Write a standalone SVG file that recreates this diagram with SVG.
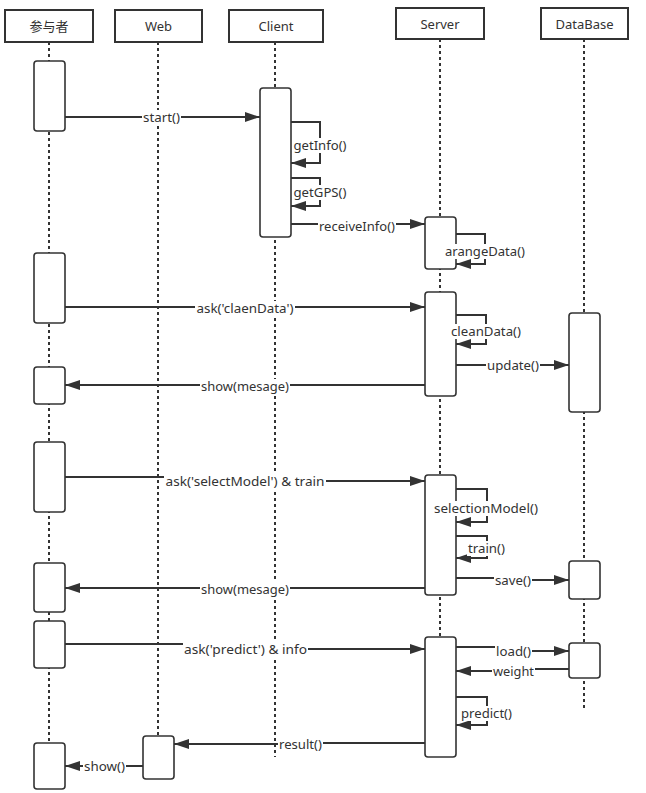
<svg xmlns="http://www.w3.org/2000/svg" width="646" height="793" viewBox="0 0 646 793">
<style>
.hdr{fill:#fff;stroke:#333;stroke-width:2}
.ht{font-family:"Noto Sans","Noto Sans CJK SC",sans-serif;font-size:13px;fill:#333;text-anchor:middle}
.life{stroke:#333;stroke-width:2;stroke-dasharray:3 3;fill:none}
.act{fill:#fff;stroke:#333;stroke-width:1.6}
.msg{fill:none;stroke:#333;stroke-width:2;marker-end:url(#ah)}
.lb{fill:#fff}
.lt{font-family:"Noto Sans","Noto Sans CJK SC",sans-serif;font-size:13px;fill:#333;text-anchor:middle}
</style>
<defs>
<marker id="ah" viewBox="0 0 15 10" refX="15" refY="5" markerWidth="15" markerHeight="10" markerUnits="userSpaceOnUse" orient="auto"><path d="M0,0 L15,5 L0,10 z" fill="#333"/></marker>
</defs>
<rect width="646" height="793" fill="#fff"/>
<g id="lifelines">
<line class="life" x1="49" y1="42" x2="49" y2="789"/>
<line class="life" x1="158" y1="42" x2="158" y2="736"/>
<line class="life" x1="275" y1="42" x2="275" y2="757"/>
<line class="life" x1="440" y1="39" x2="440" y2="759"/>
<line class="life" x1="584" y1="39" x2="584" y2="710"/>
</g>
<g id="actor">
<rect class="hdr" x="5" y="10" width="88" height="32"/>
<text class="ht" x="49" y="31">参与者</text>
<rect class="act" x="34" y="61" width="31" height="70" rx="3"/>
<rect class="act" x="34" y="253" width="31" height="70" rx="3"/>
<rect class="act" x="34" y="367" width="31" height="37" rx="3"/>
<rect class="act" x="34" y="442" width="31" height="70" rx="3"/>
<rect class="act" x="34" y="563" width="31" height="49" rx="3"/>
<rect class="act" x="34" y="621" width="31" height="47" rx="3"/>
<rect class="act" x="34" y="743" width="31" height="46" rx="3"/>
</g>
<g id="web">
<rect class="hdr" x="115" y="10" width="87" height="32"/>
<text class="ht" x="158.5" y="31">Web</text>
<rect class="act" x="143" y="736" width="31" height="43" rx="3"/>
</g>
<g id="client">
<rect class="hdr" x="229" y="10" width="94" height="32"/>
<text class="ht" x="276" y="31">Client</text>
<rect class="act" x="260" y="88" width="31" height="149" rx="3"/>
</g>
<g id="server">
<rect class="hdr" x="396" y="8" width="88" height="31"/>
<text class="ht" x="440" y="28.5">Server</text>
<rect class="act" x="425" y="217" width="31" height="52" rx="3"/>
<rect class="act" x="425" y="292" width="31" height="104" rx="3"/>
<rect class="act" x="425" y="475" width="31" height="120" rx="3"/>
<rect class="act" x="425" y="637" width="31" height="120" rx="3"/>
</g>
<g id="database">
<rect class="hdr" x="541" y="8" width="87" height="31"/>
<text class="ht" x="584.5" y="28.5">DataBase</text>
<rect class="act" x="569" y="313" width="31" height="99" rx="3"/>
<rect class="act" x="569" y="561" width="31" height="38" rx="3"/>
<rect class="act" x="569" y="643" width="31" height="35" rx="3"/>
</g>
<g id="connectors">
<path class="msg" d="M65,117 H260"/>
<path class="msg" d="M291,122 H320 V163 H291"/>
<path class="msg" d="M291,178 H320 V206 H291"/>
<path class="msg" d="M291,224 H425"/>
<path class="msg" d="M456,234 H485 V264 H456"/>
<path class="msg" d="M65,307 H425"/>
<path class="msg" d="M456,315 H486 V344 H456"/>
<path class="msg" d="M456,365 H569"/>
<path class="msg" d="M425,385 H65"/>
<path class="msg" d="M65,477 H245 V481 H425"/>
<path class="msg" d="M456,489 H487 V522 H456"/>
<path class="msg" d="M456,536 H487 V558 H456"/>
<path class="msg" d="M456,578 H513 V580 H569"/>
<path class="msg" d="M425,588 H65"/>
<path class="msg" d="M65,644 H245 V649 H425"/>
<path class="msg" d="M456,647 H513 V651 H569"/>
<path class="msg" d="M569,669 H513 V671 H456"/>
<path class="msg" d="M456,697 H487 V725 H456"/>
<path class="msg" d="M425,743 H300 V744 H174"/>
<path class="msg" d="M143,766 H65"/>
</g>
<g id="labels">
<rect class="lb" x="142" y="110" width="39" height="15"/><text class="lt" x="161.5" y="122" textLength="37" lengthAdjust="spacingAndGlyphs">start()</text>
<rect class="lb" x="292" y="138" width="56" height="15"/><text class="lt" x="320" y="150" textLength="53" lengthAdjust="spacingAndGlyphs">getInfo()</text>
<rect class="lb" x="292" y="185" width="56" height="15"/><text class="lt" x="320" y="197" textLength="53" lengthAdjust="spacingAndGlyphs">getGPS()</text>
<rect class="lb" x="318" y="219" width="78" height="15"/><text class="lt" x="357" y="231" textLength="76" lengthAdjust="spacingAndGlyphs">receiveInfo()</text>
<rect class="lb" x="444" y="244" width="82" height="15"/><text class="lt" x="485" y="256" textLength="80" lengthAdjust="spacingAndGlyphs">arangeData()</text>
<rect class="lb" x="195" y="301" width="100" height="15"/><text class="lt" x="245" y="313" textLength="97" lengthAdjust="spacingAndGlyphs">ask('claenData')</text>
<rect class="lb" x="450" y="324" width="72" height="15"/><text class="lt" x="486" y="336" textLength="70" lengthAdjust="spacingAndGlyphs">cleanData()</text>
<rect class="lb" x="486" y="358" width="54" height="15"/><text class="lt" x="513" y="370" textLength="52" lengthAdjust="spacingAndGlyphs">update()</text>
<rect class="lb" x="200" y="379" width="90" height="15"/><text class="lt" x="245" y="391" textLength="88" lengthAdjust="spacingAndGlyphs">show(mesage)</text>
<rect class="lb" x="164" y="474" width="162" height="15"/><text class="lt" x="245" y="486" textLength="159" lengthAdjust="spacingAndGlyphs">ask('selectModel') &amp; train</text>
<rect class="lb" x="433" y="501" width="106" height="15"/><text class="lt" x="486" y="513" textLength="104" lengthAdjust="spacingAndGlyphs">selectionModel()</text>
<rect class="lb" x="467" y="541" width="39" height="15"/><text class="lt" x="486.5" y="553" textLength="37" lengthAdjust="spacingAndGlyphs">train()</text>
<rect class="lb" x="494" y="573" width="38" height="15"/><text class="lt" x="513" y="585" textLength="36" lengthAdjust="spacingAndGlyphs">save()</text>
<rect class="lb" x="200" y="582" width="90" height="15"/><text class="lt" x="245" y="594" textLength="88" lengthAdjust="spacingAndGlyphs">show(mesage)</text>
<rect class="lb" x="183" y="642" width="125" height="15"/><text class="lt" x="245.5" y="654" textLength="123" lengthAdjust="spacingAndGlyphs">ask('predict') &amp; info</text>
<rect class="lb" x="495" y="644" width="37" height="15"/><text class="lt" x="513.5" y="656" textLength="35" lengthAdjust="spacingAndGlyphs">load()</text>
<rect class="lb" x="492" y="664" width="43" height="15"/><text class="lt" x="513.5" y="676" textLength="41" lengthAdjust="spacingAndGlyphs">weight</text>
<rect class="lb" x="460" y="706" width="53" height="15"/><text class="lt" x="486.5" y="718" textLength="51" lengthAdjust="spacingAndGlyphs">predict()</text>
<rect class="lb" x="278" y="737" width="45" height="15"/><text class="lt" x="300.5" y="749" textLength="43" lengthAdjust="spacingAndGlyphs">result()</text>
<rect class="lb" x="83" y="759" width="43" height="15"/><text class="lt" x="104.5" y="771" textLength="41" lengthAdjust="spacingAndGlyphs">show()</text>
</g>
</svg>
